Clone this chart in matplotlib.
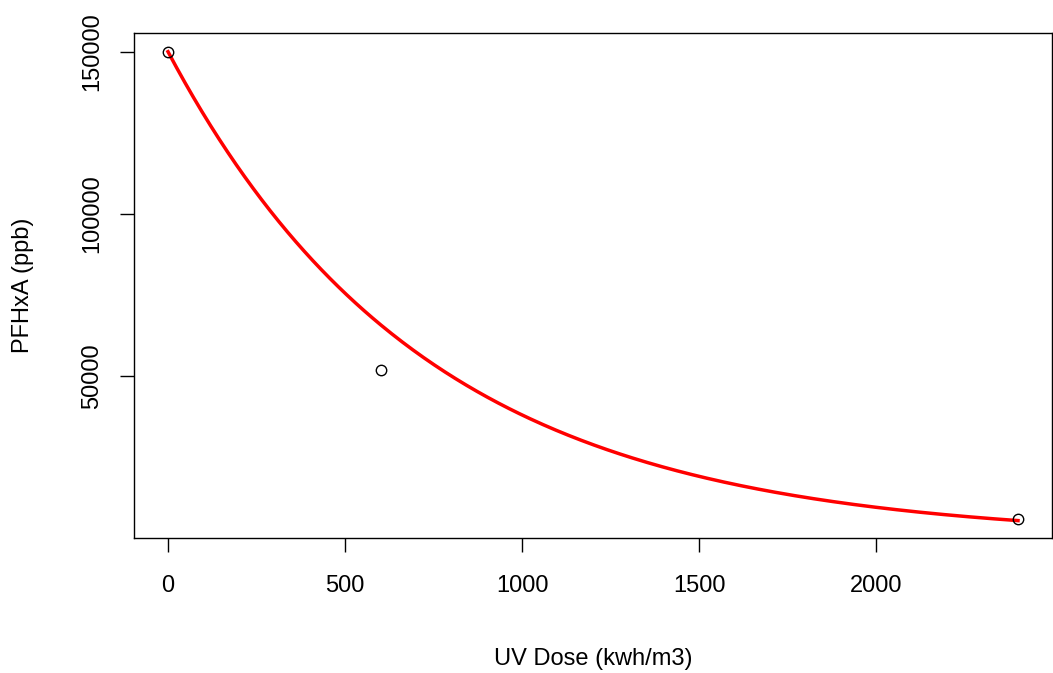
import numpy as np
import matplotlib
matplotlib.use("Agg")
import matplotlib.pyplot as plt

# observed data
uv_dose = [0, 600, 2400]
pfhxa = [150000, 52000, 6000]

# fitted exponential decay model parameters
fit_a = 150000
fit_b = 0.00137

x_ticks = [0, 500, 1000, 1500, 2000]
y_ticks = [50000, 100000, 150000]

plt.rcParams['font.family'] = ['Liberation Sans', 'DejaVu Sans']

fig = plt.figure(figsize=(10.53, 6.73), dpi=100)
ax = fig.add_axes([134/1053, 1 - 538/673, (1052 - 134)/1053, (538 - 33)/673])

xs = np.linspace(min(uv_dose), max(uv_dose), 400)
ax.plot(xs, fit_a * np.exp(-fit_b * xs), color='red', lw=2.5, zorder=2)
ax.plot(uv_dose, pfhxa, linestyle='none', marker='o', markersize=7.5,
        markerfacecolor='none', markeredgecolor='black', markeredgewidth=1.0, zorder=3)

xr = max(uv_dose) - min(uv_dose)
yr = max(pfhxa) - min(pfhxa)
ax.set_xlim(min(uv_dose) - 0.04 * xr, max(uv_dose) + 0.04 * xr)
ax.set_ylim(min(pfhxa) - 0.04 * yr, max(pfhxa) + 0.04 * yr)

ax.set_xticks(x_ticks)
ax.set_xticklabels([str(v) for v in x_ticks])
ax.set_yticks(y_ticks)
ax.set_yticklabels([str(v) for v in y_ticks], rotation=90, va='center')

fs = 17
ax.tick_params(axis='both', direction='out', length=10, width=1, colors='black',
               labelsize=fs)
ax.tick_params(axis='x', pad=17)
ax.tick_params(axis='y', pad=12)

for s in ax.spines.values():
    s.set_linewidth(1.0)
    s.set_color('black')

ax.set_xlabel('UV Dose (kwh/m3)', fontsize=fs, labelpad=36)
ax.set_ylabel('PFHxA (ppb)', fontsize=fs, labelpad=34)

fig.savefig('out.png', dpi=100)
